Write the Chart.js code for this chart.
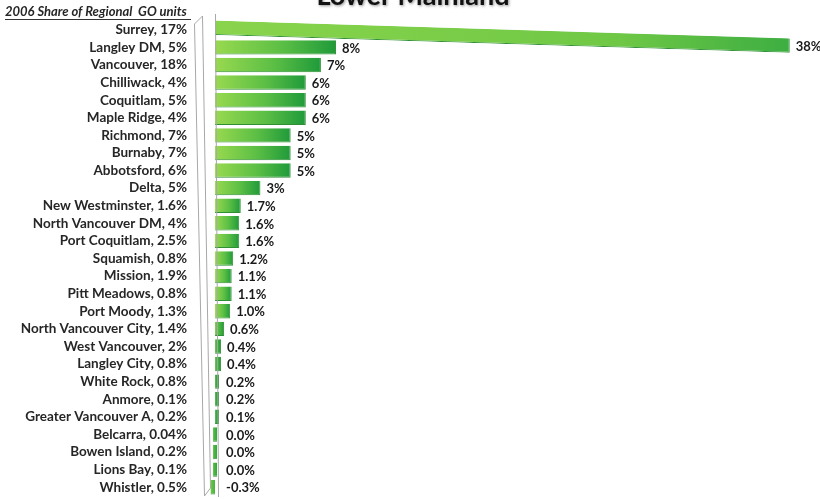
<!DOCTYPE html>
<html>
<head>
    <title>Lower Mainland</title>
    <script src="https://cdn.jsdelivr.net/npm/chart.js"></script>
    <style>
        html, body { margin: 0; padding: 0; background: #fff; }
        .frame { width: 820px; height: 499px; }
    </style>
</head>
<body>
    <div class="frame">
        <canvas id="growthChart" width="820" height="499"></canvas>
    </div>

    <script>
        const municipalities = [
            'Surrey', 'Langley DM', 'Vancouver', 'Chilliwack', 'Coquitlam', 'Maple Ridge',
            'Richmond', 'Burnaby', 'Abbotsford', 'Delta', 'New Westminster',
            'North Vancouver DM', 'Port Coquitlam', 'Squamish', 'Mission', 'Pitt Meadows',
            'Port Moody', 'North Vancouver City', 'West Vancouver', 'Langley City',
            'White Rock', 'Anmore', 'Greater Vancouver A', 'Belcarra', 'Bowen Island',
            'Lions Bay', 'Whistler'
        ];
        // 2006 share of regional GO units (%)
        const share2006 = [
            17, 5, 18, 4, 5, 4, 7, 7, 6, 5, 1.6, 4, 2.5, 0.8, 1.9, 0.8,
            1.3, 1.4, 2, 0.8, 0.8, 0.1, 0.2, 0.04, 0.2, 0.1, 0.5
        ];
        // share of growth (%)
        const growthShare = [
            38, 8, 7, 6, 6, 6, 5, 5, 5, 3, 1.7, 1.6, 1.6, 1.2, 1.1, 1.1,
            1.0, 0.6, 0.4, 0.4, 0.2, 0.2, 0.1, 0.0, 0.0, 0.0, -0.3
        ];

        const labels = municipalities.map((m, i) => `${m}, ${share2006[i]}%`);
        const fmt = (v) => (Math.abs(v) >= 2.5 ? v.toFixed(0) : v.toFixed(1)) + '%';

        // the first bar is drawn leaning down toward its end
        const SKEW = 0.031;
        const LIFT = -2;

        function barFill(c) {
            const chart = c.chart;
            const v = c.raw;
            if (!chart.chartArea || v == null) return '#6cc644';
            const xs = chart.scales.x;
            const a = xs.getPixelForValue(0);
            const b = Math.max(xs.getPixelForValue(v), a + 4);
            // short bars only show the dark end of the ramp
            const g = chart.ctx.createLinearGradient(b - Math.max(b - a, 14), 0, b, 0);
            if (c.datasetIndex === 0) {
                g.addColorStop(0, '#8ad44c');
                g.addColorStop(0.7, '#6fc845');
                g.addColorStop(1, '#3dae42');
            } else {
                g.addColorStop(0, '#98d94f');
                g.addColorStop(0.55, '#5cbf45');
                g.addColorStop(1, '#1f9a3a');
            }
            return g;
        }

        const barStyle = {
            grouped: false,
            barPercentage: 0.82,
            categoryPercentage: 1,
            minBarLength: 4,
            backgroundColor: barFill,
            borderColor: '#2f8f35',
            borderWidth: { top: 0, right: 1, bottom: 1, left: 0 },
            borderSkipped: 'start',
        };

        const decor = {
            id: 'decor',
            beforeDatasetDraw(chart, args) {
                if (args.index !== 0) return;
                const x0 = chart.scales.x.getPixelForValue(0);
                chart.ctx.save();
                chart.ctx.transform(1, SKEW, 0, 1, 0, -SKEW * x0 + LIFT);
            },
            afterDatasetDraw(chart, args) {
                if (args.index === 0) chart.ctx.restore();
            },
            afterDatasetsDraw(chart) {
                const ctx = chart.ctx;
                const x0 = chart.scales.x.getPixelForValue(0);
                ctx.save();
                ctx.font = 'bold 13px Lato';
                ctx.fillStyle = '#1a1a1a';
                ctx.textBaseline = 'middle';
                ctx.textAlign = 'left';
                chart.data.datasets.forEach((ds, di) => {
                    chart.getDatasetMeta(di).data.forEach((el, i) => {
                        const v = ds.data[i];
                        if (v == null) return;
                        const end = Math.max(el.x, el.base, x0 + 5);
                        let y = el.y;
                        if (di === 0) y += SKEW * (el.x - x0) + LIFT;
                        ctx.fillText(fmt(v), end + 6, y + 1);
                    });
                });
                ctx.restore();
            },
            afterDraw(chart) {
                const ctx = chart.ctx;
                ctx.save();
                // title, mostly above the top edge
                ctx.font = 'bold 27px Lato';
                ctx.textAlign = 'center';
                ctx.textBaseline = 'alphabetic';
                ctx.shadowColor = 'rgba(0,0,0,0.45)';
                ctx.shadowBlur = 3;
                ctx.shadowOffsetX = 1;
                ctx.shadowOffsetY = 1;
                ctx.fillStyle = '#111';
                ctx.fillText('Lower Mainland', 413, 5);
                ctx.shadowColor = 'transparent';

                // axis heading
                ctx.font = 'italic bold 13px Lato';
                ctx.textAlign = 'left';
                ctx.fillStyle = '#262626';
                ctx.fillText('2006 Share of Regional  GO units', 5, 16);
                ctx.strokeStyle = '#333';
                ctx.lineWidth = 1;
                ctx.beginPath();
                ctx.moveTo(5, 19.5);
                ctx.lineTo(191, 19.5);
                ctx.stroke();

                // side wall
                ctx.strokeStyle = '#a8a8a8';
                ctx.beginPath();
                ctx.moveTo(194.5, 24);
                ctx.lineTo(202.5, 16);
                ctx.lineTo(210.5, 488);
                ctx.lineTo(204.5, 496);
                ctx.closePath();
                ctx.stroke();
                ctx.beginPath();
                ctx.moveTo(215.5, 14);
                ctx.lineTo(218.5, 497);
                ctx.stroke();
                ctx.restore();
            }
        };

        const growthCtx = document.getElementById('growthChart').getContext('2d');

        new Chart(growthCtx, {
            type: 'bar',
            data: {
                labels: labels,
                datasets: [
                    Object.assign({
                        label: 'Surrey',
                        data: growthShare.map((v, i) => (i === 0 ? v : null)),
                    }, barStyle),
                    Object.assign({
                        label: 'Share of growth',
                        data: growthShare.map((v, i) => (i === 0 ? null : v)),
                    }, barStyle),
                ],
            },
            options: {
                indexAxis: 'y',
                responsive: false,
                animation: false,
                layout: { padding: { top: 21, bottom: 3, left: 0, right: 0 } },
                plugins: {
                    legend: { display: false },
                    tooltip: { enabled: false },
                    title: { display: false },
                },
                scales: {
                    x: {
                        display: false,
                        min: -0.4,
                        max: 40,
                    },
                    y: {
                        afterFit(scale) {
                            scale.width = 209;
                            scale.paddingTop = 0;
                            scale.paddingBottom = 0;
                        },
                        grid: { display: false, drawTicks: false },
                        border: { display: false },
                        ticks: {
                            padding: 22,
                            autoSkip: false,
                            color: '#262626',
                            font: { family: 'Lato', weight: 'bold', size: 13.5 },
                        },
                    },
                },
            },
            plugins: [decor],
        });
    </script>
</body>
</html>
